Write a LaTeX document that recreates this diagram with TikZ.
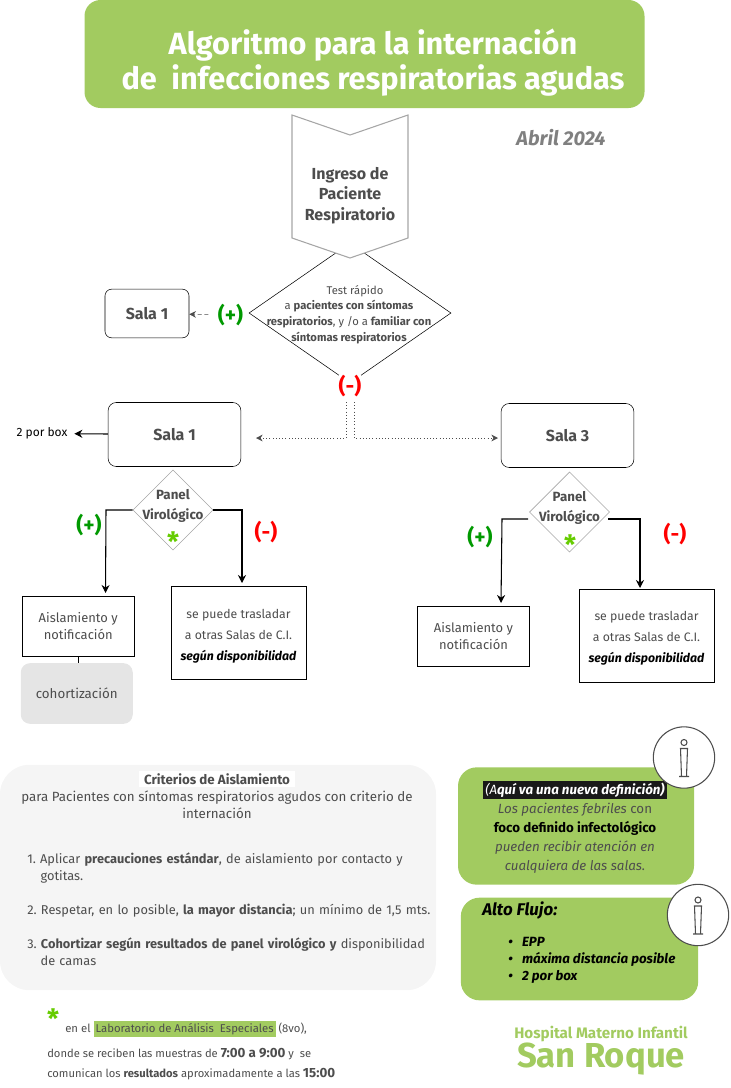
\documentclass[tikz,border=0pt]{standalone}
\usepackage{fontspec}
\setmainfont{Fira Sans}
\usetikzlibrary{arrows.meta,positioning}
\usetikzlibrary{shapes.geometric}
\definecolor{hospgreen}{HTML}{A2CB60}
\definecolor{txtgray}{HTML}{4D4D4D}
\definecolor{plusgreen}{HTML}{009900}
\definecolor{astgreen}{HTML}{66CC00}
\definecolor{critgray}{HTML}{F5F5F5}
\newcommand{\fsz}[2]{\fontsize{#1}{#2}\selectfont}
\setlength{\fboxsep}{1.5pt}

\begin{document}
\begin{tikzpicture}[x=0.75pt,y=-0.75pt,every node/.style={font=\fsz{9}{12},text=txtgray,align=center,inner sep=0pt}]
  \tikzstyle{sala} = [rectangle, rounded corners=6pt, draw=black, text=txtgray, font=\bfseries\fsz{12}{15}]
  \tikzstyle{result} = [rectangle, draw=black, fill=white, font=\fsz{9.7}{12.75}]
  \tikzstyle{traslado} = [rectangle, draw=black, fill=white, font=\fsz{9.2}{15.75}]
  \tikzstyle{panel} = [diamond, draw=gray!70, fill=white, minimum width=60pt, minimum height=60pt]
  \tikzstyle{greenbox} = [rectangle, rounded corners=14pt, fill=hospgreen]
  \tikzstyle{infocirc} = [circle, draw=txtgray, thick, fill=white, minimum size=46pt]
  \tikzstyle{posres} = [text=plusgreen, font=\bfseries\fsz{16}{16}]
  \tikzstyle{negres} = [text=red, font=\bfseries\fsz{16}{16}]
  \tikzstyle{aster} = [text=astgreen, font=\bfseries\fsz{20}{20}]

  \tikzstyle{arrow} = [-{Stealth[length=6pt,width=6pt]}, black]
  \tikzstyle{dotarrow} = [-{Stealth[length=5pt,width=5pt]}, dotted, txtgray]

  \useasboundingbox (0,0) rectangle (731,1088);

  % title
  \node (title) [rectangle, rounded corners=12pt, fill=hospgreen, minimum width=420pt, minimum height=81pt] at (364.5,54) {};
  \node (titletxt) [text=white, font=\bfseries\fsz{23}{26.2}] at (373,62.5) {Algoritmo para la internación\\de~~infecciones respiratorias agudas};
  \node (fecha) [text=gray, font=\bfseries\itshape\fsz{15}{16}] at (561,138) {Abril 2024};

  % big diamond goes under the entry shape
  \node (test) [diamond, draw=black, fill=white, minimum width=151.5pt, minimum height=105pt] at (350,313) {};
  \node (testtxt) [font=\fsz{8.4}{11.8}] at (349,314.5) {\hspace*{9pt}Test rápido\\a \textbf{pacientes con síntomas}\\\textbf{respiratorios}, y /o a \textbf{familiar con}\\\textbf{síntomas respiratorios}};
  \draw [draw=gray!70, fill=white, thick] (292,115) -- (350,135) -- (408,115) -- (408,238) -- (350,258) -- (292,238) -- cycle;
  \node (ingreso) [font=\bfseries\fsz{12}{15.4}] at (350,195.5) {Ingreso de\\Paciente\\Respiratorio};

  \node (sala1a) [sala, rounded corners=5pt, minimum width=63pt, minimum height=36.5pt] at (147,313.5) {Sala 1};
  \node (pos1) [posres, fill=white] at (230.5,315) {(+)};
  \node (neg1) [negres, fill=white] at (350,386) {(-)};
  \draw [-{Stealth[length=5pt,width=5pt]}, densely dashed, txtgray, shorten <=7pt] (pos1) -- (sala1a);

  \node (sala1b) [sala, minimum width=99.5pt, minimum height=48pt] at (174.5,434.5) {Sala 1};
  \node (sala3) [sala, minimum width=99.5pt, minimum height=48pt] at (567.5,435.5) {Sala 3};
  \node (box) [text=black] at (42,433.5) {2 por box};
  \draw [arrow, thick, shorten >=5pt] (sala1b) -- (box);

  % two dotted lines down from (-)
  \coordinate (d1) at (346,402);
  \coordinate (d2) at (346,438);
  \coordinate (d3) at (256,438);
  \coordinate (d4) at (354,402);
  \coordinate (d5) at (354,438);
  \coordinate (d6) at (498,438);
  \draw [dotarrow] (d1) -- (d2) -- (d3);
  \draw [dotarrow] (d4) -- (d5) -- (d6);

  % left panel
  \node (panel1) [panel] at (173,510) {};
  \node (panel1txt) [font=\bfseries\fsz{10}{15}] at (173,506) {Panel\\Virológico};
  \node (star1) [aster] at (173,541.5) {*};
  \node (aisl1) [result, minimum width=84pt, minimum height=45pt] at (78.25,626) {Aislamiento y\\notificación};
  \node (tras1) [traslado, minimum width=101pt, minimum height=69.5pt] at (238.5,633) {\rule{0pt}{11.5pt}se puede trasladar\\a otras Salas de C.I.\\\textbf{\textit{\textcolor{black}{según disponibilidad}}}};
  \node (cohor) [rectangle, rounded corners=7pt, fill=black!10, minimum width=84pt, minimum height=45.5pt, font=\fsz{10}{12}] at (76.75,693.5) {cohortización};
  \draw (aisl1.south) -- ++(0,7);
  \coordinate (c1a) at (106,510);
  \coordinate (c1b) at (242,510);
  \coordinate (e1a) at (105.5,593);
  \coordinate (e1b) at (242,583);
  \draw [arrow, thick] (panel1) -- (c1a) -- (e1a);
  \draw [arrow, thick] (panel1) -- (c1b) -- (e1b);
  \node (pos2) [posres] at (89,525) {(+)};
  \node (neg2) [negres] at (266,532) {(-)};

  % right panel
  \node (panel2) [panel] at (569.5,512) {};
  \node (panel2txt) [font=\bfseries\fsz{10}{15}] at (569.5,508) {Panel\\Virológico};
  \node (star2) [aster] at (570,545) {*};
  \node (aisl2) [result, minimum width=84pt, minimum height=45pt] at (473.5,636) {Aislamiento y\\notificación};
  \node (tras2) [traslado, minimum width=101pt, minimum height=69.5pt] at (646.5,635.5) {\rule{0pt}{11.5pt}se puede trasladar\\a otras Salas de C.I.\\\textbf{\textit{\textcolor{black}{según disponibilidad}}}};
  \coordinate (s2a) at (528,519);
  \coordinate (s2b) at (608,519);
  \coordinate (c2a) at (502,519);
  \coordinate (c2b) at (640,519);
  \coordinate (e2a) at (501,603);
  \coordinate (e2b) at (640,588);
  \draw [arrow, thick] (s2a) -- (c2a) -- (e2a);
  \draw [arrow, thick] (s2b) -- (c2b) -- (e2b);
  \node (pos3) [posres] at (480,537) {(+)};
  \node (neg3) [negres] at (675,534) {(-)};

  % criterios
  \node (crit) [rectangle, rounded corners=22pt, fill=critgray, minimum width=327pt, minimum height=169pt] at (218,877.5) {};
  \node (crit0) [fill=white, inner xsep=4pt, inner ysep=1.5pt, font=\bfseries\fsz{10}{12}] at (217,779) {Criterios de Aislamiento};
  \node (crit1) [font=\fsz{10}{12.7}] at (217,805) {para Pacientes con síntomas respiratorios agudos con criterio de\\internación};
  \node (crit2) [font=\fsz{9.6}{12.7}, text width=315pt, align=left, anchor=north west] at (27,853) {1.~Aplicar \textbf{precauciones estándar}, de aislamiento por contacto y\\\hspace*{10pt}gotitas.\\[12.7pt]2.~Respetar, en lo posible, \textbf{la mayor distancia}; un mínimo de 1,5 mts.\\[12.7pt]3.~\textbf{Cohortizar según resultados de panel virológico y} disponibilidad\\\hspace*{10pt}de camas};

  % notas verdes
  \node (nota1) [greenbox, minimum width=177pt, minimum height=88pt] at (576,826) {};
  \node (nota1txt) [font=\fsz{10}{14.2}] at (575,827) {\colorbox{black!90}{\textcolor{white}{\textit{(A\textbf{quí va una nueva definición)}}}}\\\textit{Los pacientes febriles} con\\\textbf{\textcolor{black}{foco definido infectológico}}\\\textit{pueden recibir atención en}\\\textit{cualquiera de las salas.}};
  \node (nota2) [greenbox, minimum width=178pt, minimum height=77pt] at (579.5,949) {};
  \node (flujo) [text=black, font=\bfseries\itshape\fsz{12.7}{14}, anchor=west] at (482,911) {Alto Flujo:};
  \node (epp) [text=black, font=\bfseries\itshape\fsz{10}{12.75}, align=left, anchor=west] at (508,960) {\textbullet\hspace{7pt}EPP\\\textbullet\hspace{7pt}máxima distancia posible\\\textbullet\hspace{7pt}2 por box};
  \node (info1) [infocirc] at (684,757.5) {};
  \node (info2) [infocirc] at (698,915) {};
  \foreach \nm/\ix/\iy in {i1/684/757.5, i2/698/915} {
    \node (\nm) [circle, draw=txtgray, minimum size=4.5pt, thick] at (\ix,\iy-15) {};
    \draw [txtgray, thick] (\ix-3.5,\iy-9) -- (\ix+3.5,\iy-9) -- (\ix+2.5,\iy+19) -- (\ix+5,\iy+19) -- (\ix-5,\iy+19) -- (\ix-2.5,\iy+19) -- cycle;
  }

  % pie
  \node (star3) [aster] at (53,1019) {*};
  \node (lab) [font=\fsz{8.5}{10}, anchor=west] at (65,1029) {en el \colorbox{hospgreen}{Laboratorio de Análisis~~Especiales}~(8vo),};
  \node (lab2) [font=\fsz{8.4}{10}, anchor=west] at (47,1054) {donde se reciben las muestras de \textbf{\fsz{10}{10}7:00 a 9:00} y~~se};
  \node (lab3) [font=\fsz{8.4}{10}, anchor=west] at (47,1074) {comunican los \textbf{resultados} aproximadamente a las \textbf{\fsz{10}{10}15:00}};

  % logo
  \node (logo1) [text=hospgreen, font=\bfseries\fsz{11.4}{12}] at (601,1034) {Hospital Materno Infantil};
  \node (logo2) [text=hospgreen, font=\bfseries\fsz{26}{26}] at (601,1059) {San Roque};
\end{tikzpicture}
\end{document}
